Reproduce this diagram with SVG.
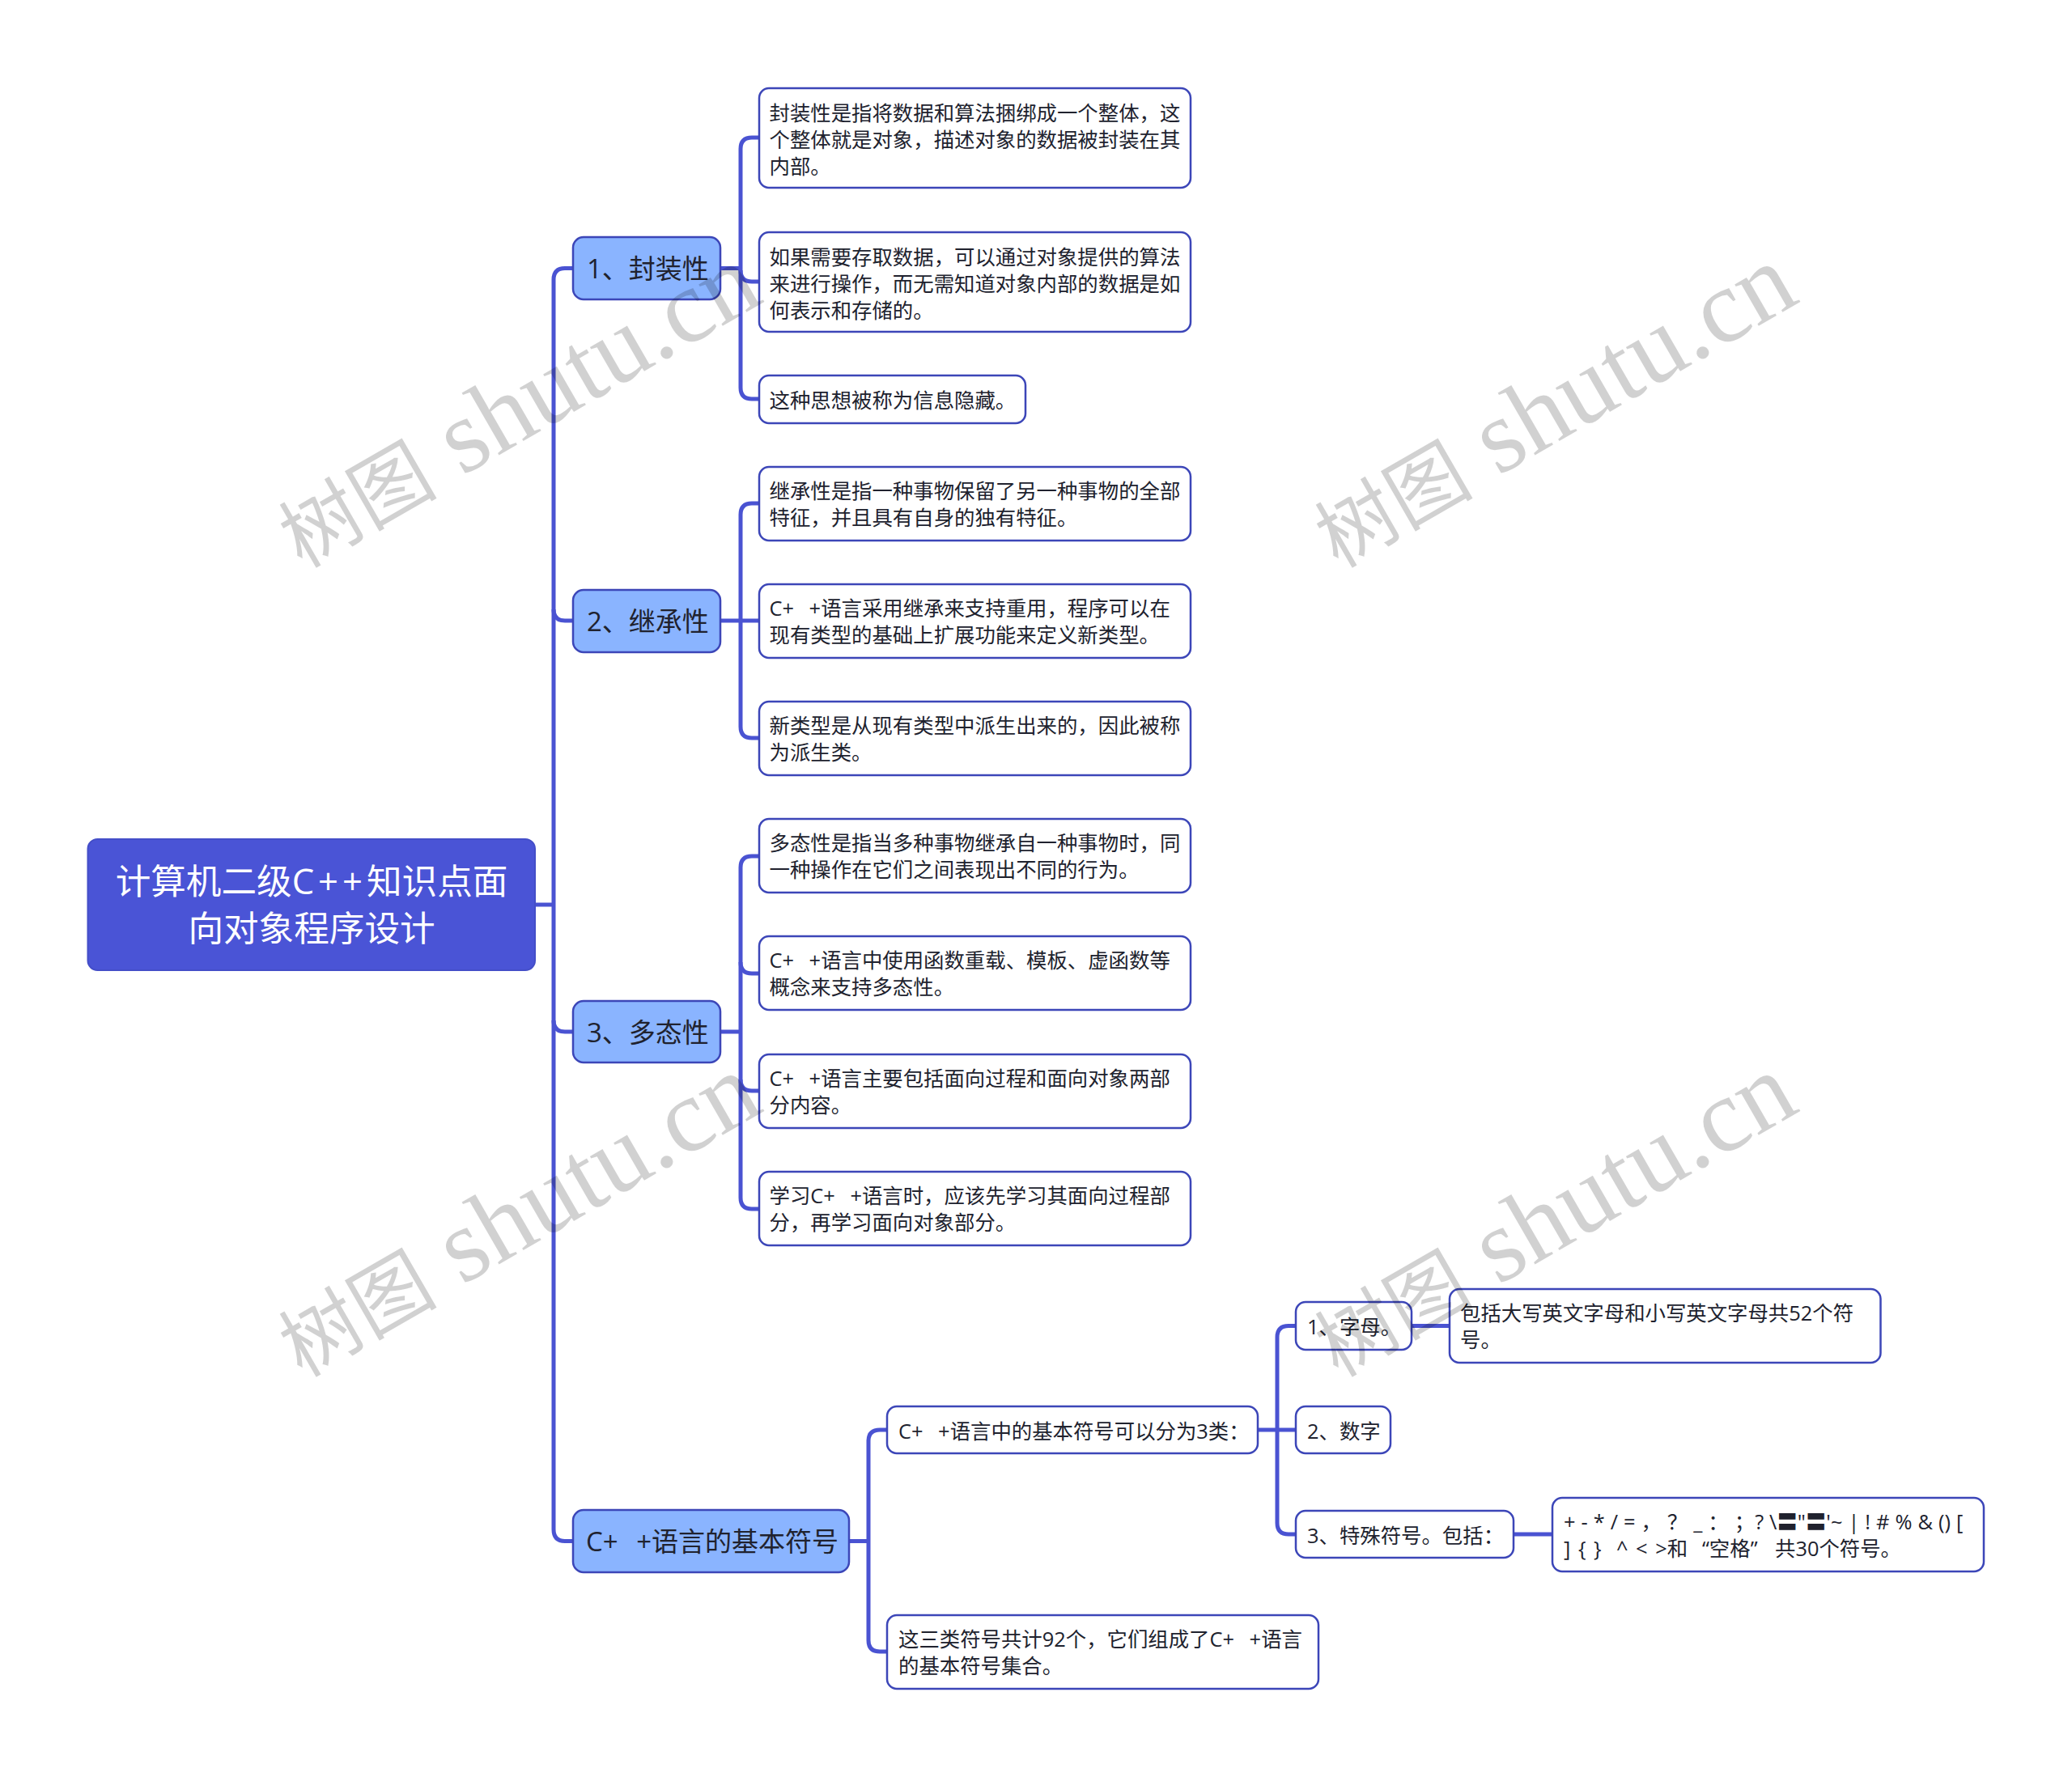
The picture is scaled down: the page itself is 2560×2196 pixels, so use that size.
<svg xmlns="http://www.w3.org/2000/svg" width="2560" height="2196" viewBox="0 0 2560 2196">
<defs><style>
text{font-family:"Open Sans","Noto Sans CJK SC","Noto Sans",sans-serif;fill:#20222e}
.conn path{fill:none;stroke:#4a53d2;stroke-width:5}
.root rect{fill:#4a54d6;stroke:#444ec8;stroke-width:2}
.root text{font-size:43.6px;fill:#fff;text-anchor:middle}
.root .cpp{letter-spacing:5px}
.l1 rect{fill:#8ab4ff;stroke:#3c46b8;stroke-width:2.5}
.l1 text{font-size:33px}
.l1 .cpp{word-spacing:14px}
.l2 rect{fill:#fff;stroke:#3c46b8;stroke-width:2.5}
.l2 text{font-size:25.4px}
.l2 .cpp{word-spacing:12px}
.wm text{font-family:"Liberation Serif","Noto Sans CJK SC",serif;font-size:129px;fill:#000;fill-opacity:.18}
.wm .zh{font-size:98px}
</style></defs>
<rect width="2560" height="2196" fill="#fff"/>
<g id="connectors" class="conn">
<path d="M661 1118H684"/>
<path d="M708 331.500H698Q684 331.500 684 345.500V1890Q684 1904.500 698 1904.500H708"/>
<path d="M684 753Q684 767 698 767H708"/>
<path d="M684 1261Q684 1275 698 1275H708"/>
<path d="M890 331.500H915"/>
<path d="M938 170H929Q915 170 915 184V479Q915 493 929 493H938"/>
<path d="M915 334Q915 348 929 348H938"/>
<path d="M890 767H915"/>
<path d="M938 622H929Q915 622 915 636V898Q915 912 929 912H938"/>
<path d="M915 767H938"/>
<path d="M890 1275H915"/>
<path d="M938 1058H929Q915 1058 915 1072V1480Q915 1494 929 1494H938"/>
<path d="M915 1189Q915 1203 929 1203H938"/>
<path d="M915 1334Q915 1348 929 1348H938"/>
<path d="M1048 1904.500H1073"/>
<path d="M1096 1767H1087Q1073 1767 1073 1781V2027Q1073 2041 1087 2041H1096"/>
<path d="M1554 1767H1601"/>
<path d="M1601 1638.500H1592Q1578 1638.500 1578 1652.500V1882Q1578 1896 1592 1896H1601"/>
<path d="M1744 1638.500H1791"/>
<path d="M1870 1896H1917"/>
</g>
<g id="root" class="root"><rect x="108.500" y="1037" width="552.500" height="162" rx="12"/><text x="385" y="1104.500">计算机二级<tspan class="cpp">C++</tspan>知识点面</text><text x="385" y="1162.500">向对象程序设计</text></g>
<g id="n1" class="l1"><rect x="708" y="293" width="182" height="77" rx="13"/><text x="725" y="343.500">1、封装性</text></g>
<g id="n1a" class="l2"><rect x="938" y="109" width="533" height="123" rx="12"/><text x="950.500" y="148.500">封装性是指将数据和算法捆绑成一个整体，这</text><text x="950.500" y="181.500">个整体就是对象，描述对象的数据被封装在其</text><text x="950.500" y="214.500">内部。</text></g>
<g id="n1b" class="l2"><rect x="938" y="287" width="533" height="123" rx="12"/><text x="950.500" y="326.500">如果需要存取数据，可以通过对象提供的算法</text><text x="950.500" y="359.500">来进行操作，而无需知道对象内部的数据是如</text><text x="950.500" y="392.500">何表示和存储的。</text></g>
<g id="n1c" class="l2"><rect x="938" y="464" width="329" height="59" rx="12"/><text x="950.500" y="503.500">这种思想被称为信息隐藏。</text></g>
<g id="n2" class="l1"><rect x="708" y="729" width="182" height="77" rx="13"/><text x="725" y="779.500">2、继承性</text></g>
<g id="n2a" class="l2"><rect x="938" y="577" width="533" height="91" rx="12"/><text x="950.500" y="615.500">继承性是指一种事物保留了另一种事物的全部</text><text x="950.500" y="648.500">特征，并且具有自身的独有特征。</text></g>
<g id="n2b" class="l2"><rect x="938" y="722" width="533" height="91" rx="12"/><text x="950.500" y="760.500"><tspan class="cpp">C+ +</tspan>语言采用继承来支持重用，程序可以在</text><text x="950.500" y="793.500">现有类型的基础上扩展功能来定义新类型。</text></g>
<g id="n2c" class="l2"><rect x="938" y="867" width="533" height="91" rx="12"/><text x="950.500" y="905.500">新类型是从现有类型中派生出来的，因此被称</text><text x="950.500" y="938.500">为派生类。</text></g>
<g id="n3" class="l1"><rect x="708" y="1237" width="182" height="76" rx="13"/><text x="725" y="1287.500">3、多态性</text></g>
<g id="n3a" class="l2"><rect x="938" y="1012" width="533" height="91" rx="12"/><text x="950.500" y="1050.500">多态性是指当多种事物继承自一种事物时，同</text><text x="950.500" y="1083.500">一种操作在它们之间表现出不同的行为。</text></g>
<g id="n3b" class="l2"><rect x="938" y="1157" width="533" height="91" rx="12"/><text x="950.500" y="1195.500"><tspan class="cpp">C+ +</tspan>语言中使用函数重载、模板、虚函数等</text><text x="950.500" y="1228.500">概念来支持多态性。</text></g>
<g id="n3c" class="l2"><rect x="938" y="1303" width="533" height="91" rx="12"/><text x="950.500" y="1341.500"><tspan class="cpp">C+ +</tspan>语言主要包括面向过程和面向对象两部</text><text x="950.500" y="1374.500">分内容。</text></g>
<g id="n3d" class="l2"><rect x="938" y="1448" width="533" height="91" rx="12"/><text x="950.500" y="1486.500">学习<tspan class="cpp">C+ +</tspan>语言时，应该先学习其面向过程部</text><text x="950.500" y="1519.500">分，再学习面向对象部分。</text></g>
<g id="n4" class="l1"><rect x="708" y="1866" width="341" height="77" rx="13"/><text x="724" y="1916.500"><tspan class="cpp">C+ +</tspan>语言的基本符号</text></g>
<g id="n4a" class="l2"><rect x="1096" y="1738" width="458" height="58" rx="12"/><text x="1110" y="1777.500"><tspan class="cpp">C+ +</tspan>语言中的基本符号可以分为3类：</text></g>
<g id="n4b" class="l2"><rect x="1096" y="1996" width="533" height="91" rx="12"/><text x="1110" y="2034.500">这三类符号共计92个，它们组成了<tspan class="cpp">C+ +</tspan>语言</text><text x="1110" y="2067.500">的基本符号集合。</text></g>
<g id="n5" class="l2"><rect x="1601" y="1609" width="143" height="59" rx="12"/><text x="1615" y="1648.500">1、字母。</text></g>
<g id="n5a" class="l2"><rect x="1791" y="1593" width="532.500" height="91" rx="12"/><text x="1804" y="1631.500">包括大写英文字母和小写英文字母共52个符</text><text x="1804" y="1664.500">号。</text></g>
<g id="n6" class="l2"><rect x="1601" y="1738" width="117" height="58" rx="12"/><text x="1615" y="1777.500">2、数字</text></g>
<g id="n7" class="l2"><rect x="1601" y="1867" width="269" height="58" rx="12"/><text x="1615" y="1906.500">3、特殊符号。包括：</text></g>
<g id="n7a" class="l2"><rect x="1918" y="1851" width="533" height="91" rx="12"/><text x="1932" y="1889.500" word-spacing=".4">+ - * / = ， ？ _ ： ；? \〓"〓'~ | ! # % &amp; () [</text><text x="1932" y="1922.500"><tspan word-spacing="3">] { }</tspan><tspan x="1997" word-spacing="3">^ &lt; &gt;和</tspan><tspan x="2103">“空格”</tspan><tspan x="2193">共30个符号。</tspan></text></g>
<g class="wm">
<text transform="translate(373 703) rotate(-30)"><tspan class="zh">树图</tspan> shutu.cn</text>
<text transform="translate(1653 703) rotate(-30)"><tspan class="zh">树图</tspan> shutu.cn</text>
<text transform="translate(373 1703) rotate(-30)"><tspan class="zh">树图</tspan> shutu.cn</text>
<text transform="translate(1653 1703) rotate(-30)"><tspan class="zh">树图</tspan> shutu.cn</text>
</g>
</svg>
